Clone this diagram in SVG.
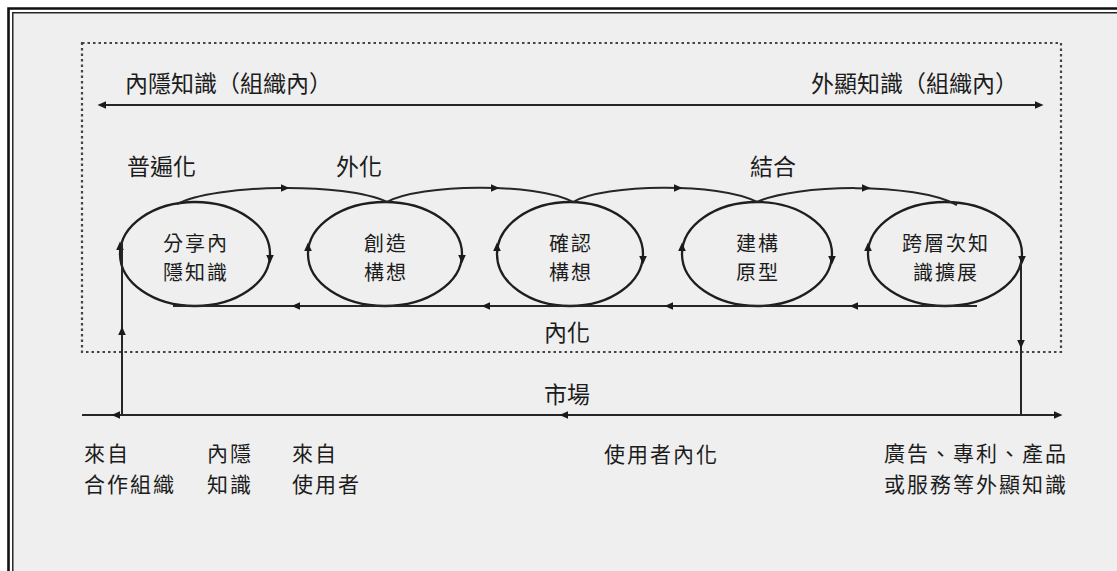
<svg xmlns="http://www.w3.org/2000/svg" width="1117" height="571" viewBox="0 0 1117 571">
<style>
  .t { font-family: "Noto Sans CJK TC", "Noto Sans CJK SC", sans-serif; font-size: 23px; fill: #1c1c1c; }
  .n { font-size: 20px; letter-spacing: 2px; }
  .b { font-size: 21px; letter-spacing: 2px; }
  .c { text-anchor: middle; }
  .e { text-anchor: end; }
  .ell { fill: none; stroke: #1e1e1e; stroke-width: 2.3; }
  .ln { fill: none; stroke: #262626; stroke-width: 2; }
  .ah { fill: #1a1a1a; }
</style>
<defs>
  <path id="ah" d="M4.5,0 L-4,-3.8 L-4,3.8 Z"/>
</defs>
<rect x="0" y="0" width="1117" height="571" fill="#ffffff"/>
<rect x="14" y="14" width="1103" height="557" fill="#efefef"/>
<path d="M8.5,571 V8.5 H1117" fill="none" stroke="#111" stroke-width="2.6"/>
<path d="M12.8,571 V12.8 H1117" fill="none" stroke="#222" stroke-width="1.5"/>

<g id="boundary">
  <rect x="82" y="43" width="979" height="309" fill="none" stroke="#444" stroke-width="2.2" stroke-dasharray="2.5,3"/>
</g>

<g id="labels">
  <text class="t" x="125" y="92">內隱知識（組織內）</text>
  <text class="t" x="811" y="92">外顯知識（組織內）</text>
  <text class="t" x="127" y="175">普遍化</text>
  <text class="t" x="336" y="175">外化</text>
  <text class="t" x="750" y="175">結合</text>
  <text class="t" x="544" y="341">內化</text>
  <text class="t" x="544" y="403">市場</text>
  <text class="t b" x="84" y="461">來自</text>
  <text class="t b" x="84" y="492">合作組織</text>
  <text class="t b" x="207" y="461">內隱</text>
  <text class="t b" x="207" y="492">知識</text>
  <text class="t b" x="292" y="461">來自</text>
  <text class="t b" x="292" y="492">使用者</text>
  <text class="t b" x="604" y="462">使用者內化</text>
  <text class="t b e" x="1068" y="461">廣告、專利、產品</text>
  <text class="t b e" x="1068" y="492">或服務等外顯知識</text>
</g>

<g id="node1">
  <ellipse class="ell" cx="195" cy="254" rx="75" ry="52"/>
  <text class="t n c" x="196" y="251">分享內</text>
  <text class="t n c" x="196" y="280">隱知識</text>
</g>
<g id="node2">
  <ellipse class="ell" cx="385" cy="254" rx="77" ry="52"/>
  <text class="t n c" x="386" y="251">創造</text>
  <text class="t n c" x="386" y="280">構想</text>
</g>
<g id="node3">
  <ellipse class="ell" cx="570" cy="254" rx="73" ry="52"/>
  <text class="t n c" x="571" y="251">確認</text>
  <text class="t n c" x="571" y="280">構想</text>
</g>
<g id="node4">
  <ellipse class="ell" cx="757" cy="254" rx="75" ry="52"/>
  <text class="t n c" x="758" y="251">建構</text>
  <text class="t n c" x="758" y="280">原型</text>
</g>
<g id="node5">
  <ellipse class="ell" cx="945" cy="254" rx="77" ry="52"/>
  <text class="t n c" x="946" y="251">跨層次知</text>
  <text class="t n c" x="946" y="280">識擴展</text>
</g>

<g id="connectors">
  <path class="ln" d="M104,105 H1037"/>
  <use href="#ah" class="ah" transform="translate(102,105) rotate(180)"/>
  <use href="#ah" class="ah" transform="translate(1039,105)"/>

  <path class="ln" d="M177,204 C215,184 345,182 387,202"/>
  <path class="ln" d="M387,202 C420,184 535,182 573,202"/>
  <path class="ln" d="M573,202 C605,184 718,182 757,202"/>
  <path class="ln" d="M757,202 C795,184 915,182 957,205"/>
  <use href="#ah" class="ah" transform="translate(285,188)"/>
  <use href="#ah" class="ah" transform="translate(495,188)"/>
  <use href="#ah" class="ah" transform="translate(678,188)"/>
  <use href="#ah" class="ah" transform="translate(866,188)"/>

  <use href="#ah" class="ah" transform="translate(120,246) rotate(-90)"/>
  <use href="#ah" class="ah" transform="translate(270,259) rotate(90)"/>
  <use href="#ah" class="ah" transform="translate(308,247) rotate(-90)"/>
  <use href="#ah" class="ah" transform="translate(462,259) rotate(90)"/>
  <use href="#ah" class="ah" transform="translate(497,247) rotate(-90)"/>
  <use href="#ah" class="ah" transform="translate(643,260) rotate(90)"/>
  <use href="#ah" class="ah" transform="translate(682,247) rotate(-90)"/>
  <use href="#ah" class="ah" transform="translate(832,260) rotate(90)"/>
  <use href="#ah" class="ah" transform="translate(868,247) rotate(-90)"/>
  <use href="#ah" class="ah" transform="translate(1022,260) rotate(90)"/>

  <path class="ln" d="M173,306 H977"/>
  <use href="#ah" class="ah" transform="translate(296,306) rotate(180)"/>
  <use href="#ah" class="ah" transform="translate(486,306) rotate(180)"/>
  <use href="#ah" class="ah" transform="translate(669,306) rotate(180)"/>
  <use href="#ah" class="ah" transform="translate(854,306) rotate(180)"/>

  <path class="ln" d="M122,415 V243"/>
  <use href="#ah" class="ah" transform="translate(122,331) rotate(-90)"/>

  <path class="ln" d="M1021,262 V415"/>
  <use href="#ah" class="ah" transform="translate(1021,344) rotate(90)"/>

  <path class="ln" d="M82,415 H1056"/>
  <use href="#ah" class="ah" transform="translate(116,415) rotate(180)"/>
  <use href="#ah" class="ah" transform="translate(564,415) rotate(180)"/>
  <use href="#ah" class="ah" transform="translate(1058,415)"/>
</g>
</svg>
